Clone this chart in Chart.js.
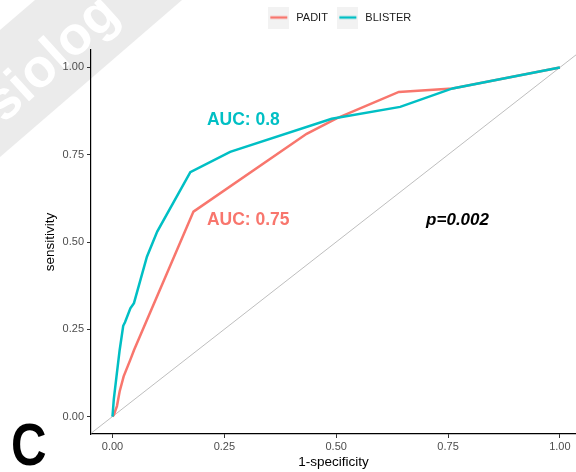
<!DOCTYPE html>
<html>
<head>
<meta charset="utf-8">
<script src="https://cdn.jsdelivr.net/npm/chart.js@4.4.0/dist/chart.umd.min.js"></script>
<style>
    html, body { margin: 0; padding: 0; background: #fff; }
    #wrap { width: 576px; height: 472px; position: relative; }
</style>
</head>
<body>
<div id="wrap"><canvas id="rocChart"></canvas></div>
<script>
"use strict";

// ROC points: x = 1-specificity, y = sensitivity
const paditFpr = [0, 0.003, 0.01, 0.016, 0.025, 0.04, 0.048, 0.181, 0.434, 0.501, 0.64, 0.76, 1];
const paditTpr = [0, 0.005, 0.03, 0.072, 0.115, 0.163, 0.19, 0.587, 0.81, 0.854, 0.93, 0.94, 1];

const blisterFpr = [0, 0.003, 0.009, 0.016, 0.024, 0.028, 0.04, 0.048, 0.077, 0.1, 0.174, 0.263, 0.49, 0.643, 0.76, 1];
const blisterTpr = [0, 0.05, 0.115, 0.19, 0.26, 0.27, 0.31, 0.325, 0.458, 0.53, 0.70, 0.758, 0.853, 0.887, 0.94, 1];

// chance line y = x
const chanceLine = [-0.05, 1.05];

const xTicks = [0, 0.25, 0.5, 0.75, 1];
const yTicks = [0, 0.25, 0.5, 0.75, 1];

const RED = '#F8766D';
const TEAL = '#00BFC4';

Chart.defaults.font.family = '"Liberation Sans", Arial, sans-serif';

function toPoints(xs, ys) {
    return xs.map((x, i) => ({ x: x, y: ys[i] }));
}

// ggplot style legend key: grey square with a short coloured line
function legendKey(color) {
    let c = document.createElement('canvas');
    c.width = 21;
    c.height = 22;
    let g = c.getContext('2d');
    g.fillStyle = '#F2F2F2';
    g.fillRect(0, 0, 21, 22);
    g.strokeStyle = color;
    g.lineWidth = 2.5;
    g.beginPath();
    g.moveTo(2, 11);
    g.lineTo(19, 11);
    g.stroke();
    return c;
}

const extras = {
    id: 'extras',
    beforeInit(chart) {
        // push the plot area down below the legend
        const fit = chart.legend.fit;
        chart.legend.fit = function () {
            fit.call(this);
            this.height += 17;
        };
    },
    afterLayout(chart) {
        // legend is centred over the panel, not the whole figure
        chart.legend.left += 51;
        chart.legend.right += 51;
    },
    beforeDraw(chart) {
        const ctx = chart.ctx;
        ctx.save();
        ctx.fillStyle = '#fff';
        ctx.fillRect(0, 0, chart.width, chart.height);
        // watermark band in the top-left corner
        ctx.fillStyle = '#EBEBEB';
        ctx.beginPath();
        ctx.moveTo(0, 30);
        ctx.lineTo(35, 0);
        ctx.lineTo(182, 0);
        ctx.lineTo(0, 157);
        ctx.closePath();
        ctx.fill();
        ctx.translate(4, 124);
        ctx.rotate(-0.74);
        ctx.fillStyle = '#fff';
        ctx.font = 'bold 54px "Liberation Sans"';
        ctx.textBaseline = 'alphabetic';
        ctx.fillText('siolog', 0, 0);
        ctx.restore();
    },
    afterDatasetsDraw(chart) {
        const ctx = chart.ctx;
        const xs = chart.scales.x;
        const ys = chart.scales.y;
        ctx.save();
        ctx.textAlign = 'left';
        ctx.textBaseline = 'middle';
        ctx.font = 'bold 17.5px "Liberation Sans"';
        ctx.fillStyle = TEAL;
        ctx.fillText('AUC: 0.8', xs.getPixelForValue(0.211), ys.getPixelForValue(0.849));
        ctx.fillStyle = RED;
        ctx.fillText('AUC: 0.75', xs.getPixelForValue(0.211), ys.getPixelForValue(0.563));
        ctx.fillStyle = '#000';
        ctx.font = 'italic bold 17px "Liberation Sans"';
        ctx.fillText('p=0.002', xs.getPixelForValue(0.701), ys.getPixelForValue(0.563));
        ctx.restore();
    },
    afterDraw(chart) {
        // panel letter
        const ctx = chart.ctx;
        ctx.save();
        ctx.translate(11, 465);
        ctx.scale(0.82, 1);
        ctx.fillStyle = '#000';
        ctx.font = 'bold 60px "Liberation Sans"';
        ctx.textBaseline = 'alphabetic';
        ctx.fillText('C', 0, 0);
        ctx.restore();
    }
};

let ctx = document.getElementById('rocChart').getContext('2d');
let chart = new Chart(ctx, {
    type: 'scatter',
    data: {
        datasets: [
            {
                label: 'PADIT',
                data: toPoints(paditFpr, paditTpr),
                borderColor: RED,
                backgroundColor: RED,
                borderWidth: 2.5,
                pointRadius: 0,
                pointStyle: legendKey(RED),
                showLine: true,
                order: 1
            },
            {
                label: 'BLISTER',
                data: toPoints(blisterFpr, blisterTpr),
                borderColor: TEAL,
                backgroundColor: TEAL,
                borderWidth: 2.5,
                pointRadius: 0,
                pointStyle: legendKey(TEAL),
                showLine: true,
                order: 0
            },
            {
                label: 'chance',
                data: toPoints(chanceLine, chanceLine),
                borderColor: '#BEBEBE',
                borderWidth: 1,
                pointRadius: 0,
                showLine: true,
                order: 2
            }
        ]
    },
    options: {
        responsive: true,
        maintainAspectRatio: false,
        animation: false,
        events: [],
        layout: { padding: { top: 4, left: 0, right: 0, bottom: 0 } },
        plugins: {
            tooltip: { enabled: false },
            legend: {
                position: 'top',
                labels: {
                    usePointStyle: true,
                    pointStyleWidth: 24,
                    padding: 8,
                    color: '#1A1A1A',
                    font: { size: 11 },
                    filter: item => item.text !== 'chance',
                    sort: (a, b) => a.datasetIndex - b.datasetIndex
                }
            }
        },
        scales: {
            x: {
                type: 'linear',
                min: -0.048,
                max: 1.036,
                afterBuildTicks: s => { s.ticks = xTicks.map(v => ({ value: v })); },
                afterFit: s => { s.height = 38; },
                ticks: {
                    color: '#4D4D4D',
                    font: { size: 11 },
                    padding: 2,
                    maxRotation: 0,
                    callback: v => v.toFixed(2)
                },
                grid: { drawOnChartArea: false, tickLength: 4, color: '#333333' },
                border: { color: '#000', width: 1.2 },
                title: {
                    display: true,
                    text: '1-specificity',
                    color: '#000',
                    font: { size: 13.5 },
                    padding: { top: 0, bottom: 2 }
                }
            },
            y: {
                type: 'linear',
                min: -0.05,
                max: 1.05,
                afterBuildTicks: s => { s.ticks = yTicks.map(v => ({ value: v })); },
                afterFit: s => { s.width = 91; },
                ticks: {
                    color: '#4D4D4D',
                    font: { size: 11 },
                    padding: 3,
                    callback: v => v.toFixed(2)
                },
                grid: { drawOnChartArea: false, tickLength: 4, color: '#333333' },
                border: { color: '#000', width: 1.2 },
                title: {
                    display: true,
                    text: 'sensitivity',
                    color: '#000',
                    font: { size: 13.5 },
                    padding: { top: 42, bottom: 0 }
                }
            }
        }
    },
    plugins: [extras]
});
</script>
</body>
</html>
